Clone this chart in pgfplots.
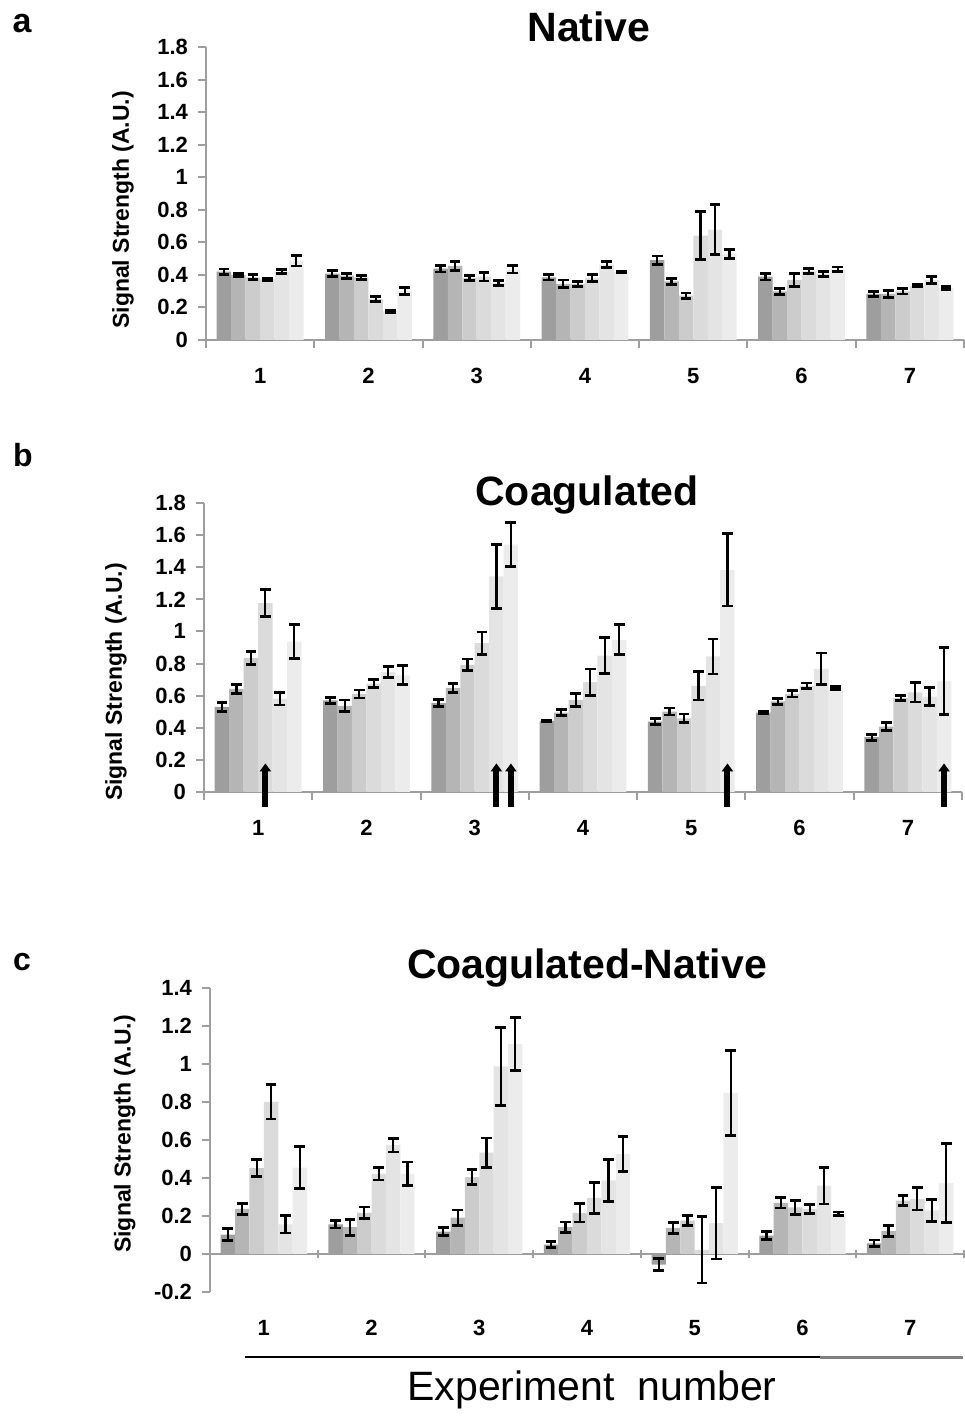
\documentclass[border=0pt]{standalone}
\usepackage{fontspec}
\setmainfont{Liberation Sans}
\usepackage{pgfplots}
\usepackage{pgfplotstable}
\pgfplotsset{compat=1.18}
\usetikzlibrary{arrows.meta}

\definecolor{c1}{gray}{0.62}
\definecolor{c2}{gray}{0.71}
\definecolor{c3}{gray}{0.80}
\definecolor{c4}{gray}{0.86}
\definecolor{c5}{gray}{0.895}
\definecolor{c6}{gray}{0.925}
\definecolor{axisgray}{gray}{0.62}

% group, value and error of the six bars in each group
\pgfplotstableread{
g v1 e1 v2 e2 v3 e3 v4 e4 v5 e5 v6 e6
1 0.420 0.016 0.400 0.010 0.385 0.015 0.373 0.008 0.420 0.012 0.487 0.033
2 0.407 0.018 0.395 0.015 0.385 0.012 0.252 0.016 0.176 0.008 0.300 0.020
3 0.438 0.020 0.455 0.028 0.381 0.016 0.389 0.027 0.350 0.017 0.434 0.022
4 0.385 0.016 0.344 0.024 0.344 0.015 0.381 0.020 0.463 0.017 0.418 0.006
5 0.491 0.025 0.360 0.018 0.272 0.016 0.641 0.146 0.678 0.154 0.528 0.028
6 0.389 0.020 0.299 0.018 0.369 0.039 0.422 0.016 0.405 0.015 0.434 0.014
7 0.283 0.014 0.283 0.020 0.299 0.016 0.334 0.006 0.369 0.020 0.319 0.008
}\native

\pgfplotstableread{
g v1 e1 v2 e2 v3 e3 v4 e4 v5 e5 v6 e6
1 0.530 0.029 0.642 0.029 0.836 0.040 1.176 0.085 0.580 0.038 0.937 0.108
2 0.570 0.019 0.536 0.037 0.610 0.025 0.675 0.026 0.748 0.033 0.727 0.060
3 0.553 0.023 0.649 0.028 0.792 0.036 0.927 0.070 1.343 0.200 1.540 0.138
4 0.443 0.005 0.495 0.018 0.574 0.040 0.684 0.082 0.850 0.110 0.948 0.093
5 0.439 0.020 0.501 0.022 0.459 0.027 0.661 0.088 0.844 0.109 1.384 0.226
6 0.495 0.008 0.565 0.018 0.611 0.020 0.661 0.018 0.767 0.099 0.646 0.010
7 0.341 0.018 0.407 0.026 0.584 0.016 0.621 0.060 0.594 0.055 0.691 0.210
}\coag

\pgfplotstableread{
g v1 e1 v2 e2 v3 e3 v4 e4 v5 e5 v6 e6
1 0.102 0.033 0.237 0.029 0.452 0.046 0.800 0.090 0.156 0.045 0.455 0.109
2 0.156 0.019 0.141 0.042 0.216 0.031 0.422 0.033 0.573 0.036 0.422 0.062
3 0.118 0.021 0.192 0.040 0.404 0.040 0.533 0.077 0.988 0.205 1.104 0.139
4 0.049 0.015 0.141 0.027 0.216 0.048 0.295 0.083 0.387 0.110 0.527 0.091
5 -0.056 0.031 0.137 0.029 0.176 0.028 0.022 0.175 0.163 0.189 0.848 0.224
6 0.097 0.021 0.269 0.027 0.246 0.037 0.237 0.023 0.360 0.097 0.211 0.010
7 0.056 0.018 0.120 0.029 0.281 0.025 0.290 0.058 0.229 0.057 0.373 0.209
}\diff

\pgfplotsset{
  panel/.style={
    scale only axis, clip=false,
    axis x line=bottom, axis y line=left,
    axis line style={-, draw=axisgray, line width=1pt},
    xmin=0.5, xmax=7.5,
    xtick={0.5,1.5,...,7.5}, xticklabels={},
    extra x ticks={1,...,7},
    extra x tick style={major tick length=0pt,
      tick label style={yshift=-10.5pt}},
    tick style={draw=axisgray, line width=1pt},
    tick align=outside, major tick length=4pt,
    ticklabel style={font=\bfseries\fontsize{11}{12}\selectfont},
    yticklabel style={xshift=-1.5pt},
    /pgf/number format/assume math mode=true,
    /pgf/number format/fixed,
    ylabel={Signal Strength (A.U.)},
  },
  barstyle/.style={ybar, bar width=0.1336, bar shift=0pt, draw=none,
    error bars/y dir=both, error bars/y explicit,
    error bars/error bar style={draw=black, line width=1.1pt},
    error bars/error mark options={rotate=90, mark size=2.7pt, line width=1.4pt, draw=black}},
}

% six bars of a group side by side, each 0.1336 wide
\newcommand{\sixbars}[1]{%
  \addplot[barstyle, fill=c1] table[x expr=\thisrow{g}-0.334, y=v1, y error=e1] {#1};
  \addplot[barstyle, fill=c2] table[x expr=\thisrow{g}-0.2004, y=v2, y error=e2] {#1};
  \addplot[barstyle, fill=c3] table[x expr=\thisrow{g}-0.0668, y=v3, y error=e3] {#1};
  \addplot[barstyle, fill=c4] table[x expr=\thisrow{g}+0.0668, y=v4, y error=e4] {#1};
  \addplot[barstyle, fill=c5] table[x expr=\thisrow{g}+0.2004, y=v5, y error=e5] {#1};
  \addplot[barstyle, fill=c6] table[x expr=\thisrow{g}+0.334, y=v6, y error=e6] {#1};
}

\begin{document}
\begin{tikzpicture}
\path[use as bounding box] (0,0) rectangle (482pt,708pt);

% a: native
\begin{axis}[panel, at={(103pt,538pt)}, anchor=south west,
  width=379pt, height=146.5pt,
  ymin=0, ymax=1.8, ytick={0,0.2,0.4,0.6,0.8,1,1.2,1.4,1.6,1.8},
  every axis y label/.style={at={(axis description cs:-0.1095,0.444)},
    rotate=90, anchor=center, font=\bfseries\fontsize{11.5}{13}\selectfont}]
\sixbars{\native}
\end{axis}

% b: coagulated
\begin{axis}[panel, at={(102pt,312pt)}, anchor=south west,
  width=379pt, height=144.5pt,
  ymin=0, ymax=1.8, ytick={0,0.2,0.4,0.6,0.8,1,1.2,1.4,1.6,1.8},
  every axis y label/.style={at={(axis description cs:-0.116,0.38)},
    rotate=90, anchor=center, font=\bfseries\fontsize{11.5}{13}\selectfont}]
\sixbars{\coag}
\addplot[no markers, black, line width=3pt,
  -{Triangle[length=4pt, width=5.5pt]},
  quiver={u value=0, v value=0.27}]
  coordinates {(1.0668,-0.092) (3.2004,-0.092) (3.334,-0.092) (5.334,-0.092) (7.334,-0.092)};
\end{axis}

% c: coagulated - native
\begin{axis}[panel, at={(105pt,62pt)}, anchor=south west,
  width=377pt, height=152pt,
  axis x line=middle, hide obscured x ticks=false, hide obscured y ticks=false,
  x axis line style={-}, every inner x axis line/.append style={-},
  extra x tick style={major tick length=0pt,
    tick label style={yshift=-19pt}},
  ymin=-0.2, ymax=1.4, ytick={-0.2,0,0.2,0.4,0.6,0.8,1,1.2,1.4},
  every axis y label/.style={at={(axis description cs:-0.113,0.52)},
    rotate=90, anchor=center, font=\bfseries\fontsize{11.5}{13}\selectfont}]
\sixbars{\diff}
\end{axis}

\node[font=\bfseries\fontsize{17}{19}\selectfont] at (11pt,696pt) {a};
\node[font=\bfseries\fontsize{16}{18}\selectfont] at (11.5pt,480.5pt) {b};
\node[font=\bfseries\fontsize{16}{18}\selectfont] at (11pt,227pt) {c};

\node[font=\bfseries\fontsize{20.5}{22}\selectfont] at (294.5pt,694.5pt) {Native};
\node[font=\bfseries\fontsize{20.5}{22}\selectfont] at (293.5pt,460.5pt) {Coagulated};
\node[font=\bfseries\fontsize{20.5}{22}\selectfont] at (293.5pt,224pt) {Coagulated-Native};

\draw[black, line width=1pt] (122.5pt,29.5pt) -- (410pt,29.5pt);
\draw[gray, line width=1.5pt] (410pt,29.3pt) -- (481.5pt,29.3pt);
\node[font=\fontsize{20.5}{22}\selectfont] at (296pt,13pt) {Experiment\ \ number};
\end{tikzpicture}
\end{document}
